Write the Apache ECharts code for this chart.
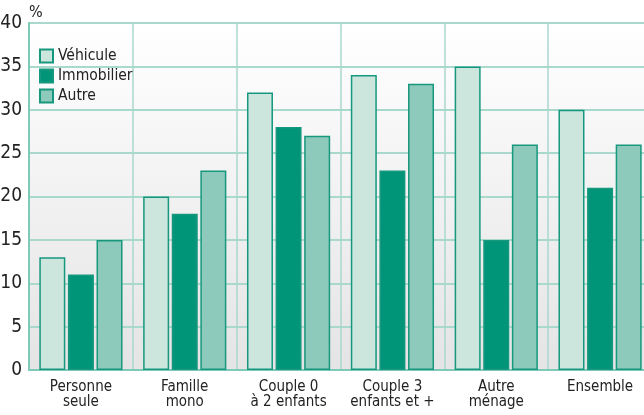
<!DOCTYPE html>
<html>
<head>
<meta charset="utf-8">
<script src="https://cdn.jsdelivr.net/npm/echarts@6/dist/echarts.min.js"></script>
<style>
  html, body { margin: 0; padding: 0; background: #fff; }
  #chart { width: 644px; height: 415px; }
</style>
</head>
<body>
<div id="chart"></div>
<script>
  var categories = ['Personne\nseule', 'Famille\nmono', 'Couple 0\nà 2 enfants', 'Couple 3\nenfants et +', 'Autre\nménage', 'Ensemble'];
  var vehicule = [13, 20, 32, 34, 35, 30];
  var immobilier = [11, 18, 28, 23, 15, 21];
  var autre = [15, 23, 27, 33, 26, 26];
  var yTicks = [0, 5, 10, 15, 20, 25, 30, 35, 40];

  var font = '"DejaVu Sans Condensed", "Liberation Sans Narrow", sans-serif';
  var edge = '#16987e';

  var chart = echarts.init(document.getElementById('chart'));
  chart.setOption({
    animation: false,
    textStyle: { fontFamily: font },
    grid: {
      left: 29,
      top: 23,
      width: 623,
      bottom: 45,
      outerBoundsMode: 'none',
      show: true,
      borderWidth: 0,
      backgroundColor: new echarts.graphic.LinearGradient(0, 0, 0, 1, [
        { offset: 0, color: '#ffffff' },
        { offset: 1, color: '#e4e4e4' }
      ])
    },
    legend: {
      orient: 'vertical',
      left: 34,
      top: 43,
      itemWidth: 13,
      itemHeight: 13,
      itemGap: 4,
      icon: 'rect',
      textStyle: { fontFamily: font, fontSize: 15.5, lineHeight: 16, color: '#222' },
      data: ['Véhicule', 'Immobilier', 'Autre']
    },
    graphic: [{
      type: 'text',
      left: 29,
      top: 5,
      style: { text: '%', fontFamily: font, fontSize: 16, fill: '#222' }
    }],
    xAxis: {
      type: 'category',
      data: categories,
      axisLine: { show: true, lineStyle: { color: '#7fc9b8', width: 2 } },
      axisTick: { show: false },
      axisLabel: { fontFamily: font, fontSize: 15, color: '#222', lineHeight: 15, margin: 10, interval: 0 },
      splitLine: { show: true, lineStyle: { color: '#a9d9cd', width: 1.5 } }
    },
    yAxis: {
      type: 'value',
      min: 0,
      max: 40,
      interval: 5,
      axisLine: { show: true, lineStyle: { color: '#7fc9b8', width: 2 } },
      axisTick: { show: false },
      axisLabel: {
        fontFamily: font, fontSize: 19, color: '#222', margin: 7,
        formatter: function (v) { return yTicks.indexOf(v) >= 0 ? String(v) : ''; }
      },
      splitLine: { show: true, lineStyle: { color: '#a9d9cd', width: 2 } }
    },
    series: [
      {
        name: 'Véhicule', type: 'bar', data: vehicule,
        barWidth: 26, barGap: '10%',
        itemStyle: { color: '#cce6de', borderColor: edge, borderWidth: 1.5 }
      },
      {
        name: 'Immobilier', type: 'bar', data: immobilier,
        barWidth: 26, barGap: '10%',
        itemStyle: { color: '#009479', borderColor: edge, borderWidth: 1.5 }
      },
      {
        name: 'Autre', type: 'bar', data: autre,
        barWidth: 26, barGap: '10%',
        itemStyle: { color: '#8ecabb', borderColor: edge, borderWidth: 1.5 }
      }
    ]
  });
</script>
</body>
</html>
